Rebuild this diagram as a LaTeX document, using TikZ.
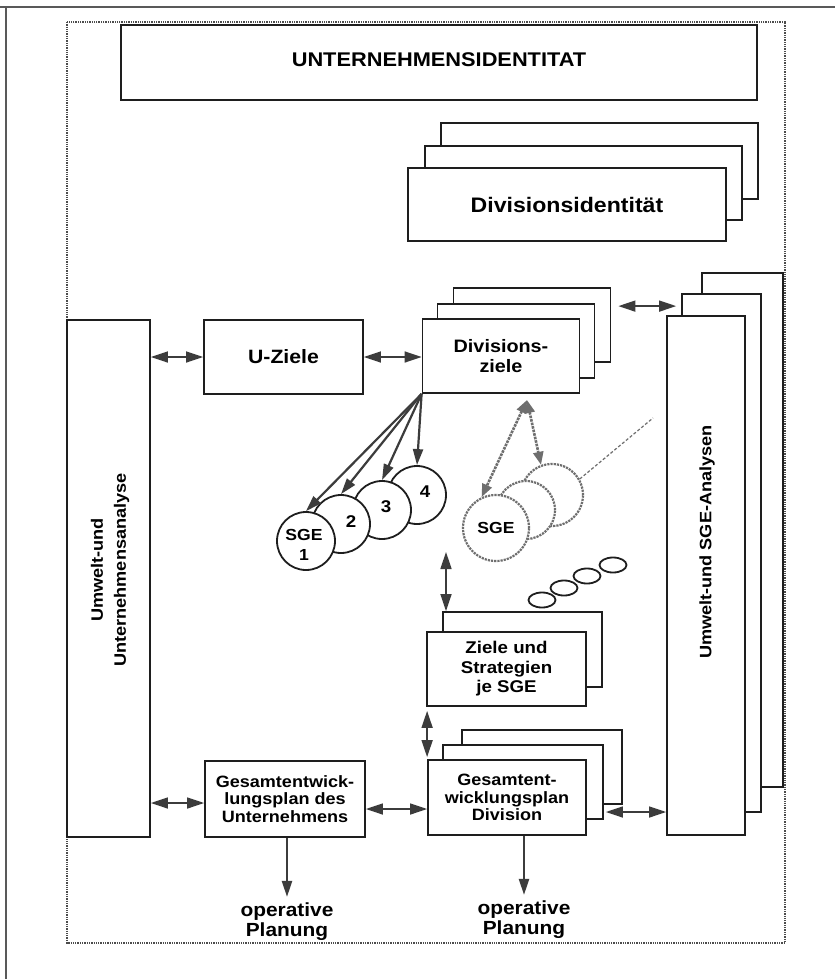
\documentclass[tikz,border=0pt]{standalone}
\usepackage{fontspec}
\setmainfont{Liberation Sans}[FakeStretch=1.1]
\usetikzlibrary{arrows.meta,calc,shapes.geometric}
\definecolor{ink}{HTML}{1E1E1E}
\definecolor{agray}{HTML}{3C3C3C}
\definecolor{dgray}{HTML}{6E6E6E}
\newcommand{\fsz}[2]{\fontsize{#1}{#2}\selectfont}
\begin{document}
\begin{tikzpicture}[x=1pt,y=-1pt,
 box/.style={draw=ink,line width=1.8pt,fill=white,inner sep=0pt,align=center,font=\bfseries\fsz{18}{20}},
 dbl/.style={{Triangle[length=17pt,width=11pt]}-{Triangle[length=17pt,width=11pt]},line width=1.6pt,draw=agray},
 arr/.style={-{Triangle[length=16pt,width=10pt]},line width=2.2pt,draw=agray},
 circ/.style={circle,draw=ink,line width=1.8pt,fill=white,minimum size=58pt,inner sep=0pt},
 dcirc/.style={circle,draw=dgray,densely dotted,line width=2.2pt,fill=white,inner sep=0pt},
 darr/.style={{Triangle[length=13pt,width=10pt]}-{Triangle[length=13pt,width=10pt]},draw=dgray,densely dotted,line width=2.6pt},
 oval/.style={ellipse,draw=ink,line width=1.8pt,minimum width=27pt,minimum height=15pt,inner sep=0pt},
 lbl/.style={font=\bfseries\fsz{19}{20},align=center,inner sep=0pt}
]
\useasboundingbox (0,0) rectangle (835,979);
\fill[white] (0,0) rectangle (835,979);
% scan frame lines
\draw[black!65,line width=1.2pt] (0,7) -- (835,7);
\draw[black!65,line width=1.2pt] (6,7) -- (6,979);
% dotted frame
\draw[black!70,densely dotted,line width=1.3pt] (67,22) rectangle (785,943);

% title
\node[box,minimum width=636pt,minimum height=75pt,font=\bfseries\fsz{19.8}{22}] (title) at (439,62.5) {\raisebox{5pt}{UNTERNEHMENSIDENTITAT}};

% Divisionsidentitaet stack
\node[box,minimum width=317pt,minimum height=76pt] (dib) at (599.5,161) {};
\node[box,minimum width=317pt,minimum height=74pt] (dim) at (583.5,183) {};
\node[box,minimum width=318pt,minimum height=73pt,font=\bfseries\fsz{21}{22}] (dif) at (567,204.5) {Divisionsidentität};

% left box
\node[box,minimum width=83pt,minimum height=517pt] (lb) at (108.5,578.5) {};
\node[lbl,rotate=90,font=\bfseries\fsz{16.5}{23}] (lbt) at (110,570) {Umwelt-und\\Unternehmensanalyse};

% U-Ziele
\node[box,minimum width=159pt,minimum height=74pt,font=\bfseries\fsz{19.3}{20}] (uz) at (283.5,357) {U-Ziele};

% Divisionsziele stack
\node[box,minimum width=157pt,minimum height=74pt] (dzb) at (532,325) {};
\node[box,minimum width=157pt,minimum height=74pt] (dzm) at (516,341) {};
\node[box,minimum width=157pt,minimum height=74pt] (dzf) at (501,356) {Divisions-\\ziele};

% right stack
\node[box,minimum width=81pt,minimum height=514pt] (rb) at (742.5,530) {};
\node[box,minimum width=79pt,minimum height=518pt] (rm) at (721.5,553) {};
\node[box,minimum width=78pt,minimum height=519pt] (rf) at (706,575.5) {};
\node[lbl,rotate=90,font=\bfseries\fsz{16.5}{20}] (rft) at (707,542) {Umwelt-und SGE-Analysen};

% SGE circles (black)
\node[circ,label={[lbl,name=l4,font=\bfseries\fsz{17}{18},xshift=8pt,yshift=3pt]center:4}] (c4) at (417,495) {};
\node[circ,label={[lbl,name=l3,font=\bfseries\fsz{17}{18},xshift=4pt,yshift=3pt]center:3}] (c3) at (382,510) {};
\node[circ,label={[lbl,name=l2,font=\bfseries\fsz{17}{18},xshift=10pt,yshift=2pt]center:2}] (c2) at (341,524) {};
\node[circ,label={[lbl,name=l1,font=\bfseries\fsz{16}{20},xshift=-2pt,yshift=-4pt]center:SGE\\1}] (c1) at (306,541) {};

\draw[arr] (dzf.south west) -- (c1.north);
\draw[arr] (dzf.south west) -- (c2.north);
\draw[arr] (dzf.south west) -- (c3.north);
\draw[arr] (dzf.south west) -- (c4.north);

% dotted SGE circles
\node[dcirc,minimum size=62pt] (sgb) at (552,495) {};
\node[dcirc,minimum size=58pt] (sgm) at (526,510) {};
\node[dcirc,minimum size=66pt,font=\bfseries\fsz{16}{18}] (sgs) at (496,528) {SGE};
\coordinate (apex) at (527,400);
\draw[darr] (apex) -- (sgs.115);
\draw[darr] (apex) -- (sgb.110);
\coordinate (tail) at (653,418);
\draw[dgray,densely dashed,line width=1.2pt] (sgb.30) -- (tail);

% ovals
\node[oval] (o1) at (542,600) {};
\node[oval] (o2) at (564,588) {};
\node[oval] (o3) at (587,576) {};
\node[oval] (o4) at (613,565) {};

% Ziele und Strategien stack
\node[box,minimum width=159pt,minimum height=75pt] (zb) at (522.5,649.5) {};
\node[box,minimum width=159pt,minimum height=74pt,font=\bfseries\fsz{17}{19.5}] (zf) at (506.5,669) {Ziele und\\Strategien\\je SGE};

% Gesamtentwicklungsplan Division stack
\node[box,minimum width=160pt,minimum height=74pt] (gdb) at (542,767) {};
\node[box,minimum width=160pt,minimum height=74pt] (gdm) at (523,782) {};
\node[box,minimum width=158pt,minimum height=75pt,font=\bfseries\fsz{16.4}{17.5}] (gdf) at (507,797.5) {Gesamtent-\\wicklungsplan\\Division};

% Gesamtentwicklungsplan des Unternehmens
\node[box,minimum width=160pt,minimum height=76pt,font=\bfseries\fsz{16.4}{17.5}] (gu) at (285,799) {Gesamtentwick-\\lungsplan des\\Unternehmens};

% operative Planung
\node[lbl] (op1) at (287,922) {operative\\Planung};
\node[lbl] (op2) at (524,920) {operative\\Planung};

% connectors
\draw[dbl] (lb.east |- uz.west) -- (uz.west);
\draw[dbl] (uz.east) -- (dzf.west |- uz.east);
\coordinate (da) at ($(dzb.north east)+(7,19)$);
\draw[dbl] (da) -- ($(da -| rm.west)+(-5,0)$);
\coordinate (va) at (446,552);
\draw[dbl] (va) -- (va |- zb.north);
\draw[dbl] ($(zf.south west)+(1,4)$) -- ($(gdf.north west)+(0,-2)$);
\draw[dbl] ($(lb.east |- gu.west)+(0,4)$) -- ($(gu.west)+(0,4)$);
\draw[dbl] ($(gu.east)+(0,10)$) -- ($(gdf.west |- gu.east)+(0,10)$);
\draw[dbl] ($(gdm.east)+(2,30)$) -- ($(rf.west |- gdm.east)+(0,30)$);
\draw[arr] (gu.south -| op1.north) -- ([yshift=6pt]op1.north);
\draw[arr] (gdf.south -| op2.north) -- ([yshift=6pt]op2.north);
\end{tikzpicture}
\end{document}
